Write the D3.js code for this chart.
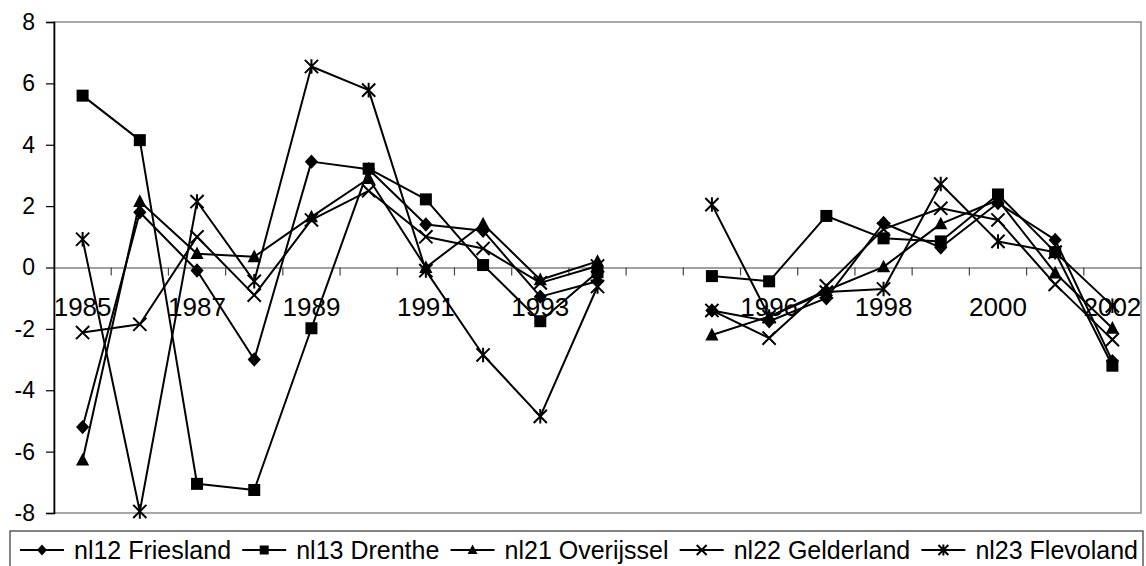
<!DOCTYPE html>
<html>
<head>
<meta charset="utf-8">
<script src="https://cdn.jsdelivr.net/npm/d3@7/dist/d3.min.js"></script>
<style>
  html, body { margin: 0; padding: 0; background: #fff; }
  svg { display: block; font-family: "Liberation Sans", Arial, sans-serif; }
</style>
</head>
<body>
<svg id="chart" width="1146" height="566"></svg>
<script>
// Categories: one empty slot separates the two periods
const categories = ["1985","1986","1987","1988","1989","1990","1991","1992","1993","1994","",
                    "1995","1996","1997","1998","1999","2000","2001","2002"];

const friesland  = [-5.2, 1.8, -0.1, -3.0, 3.45, 3.2, 1.4, 1.2, -0.95, -0.45, null,
                    -1.4, -1.75, -1.0, 1.45, 0.65, 2.1, 0.9, -3.05];
const drenthe    = [5.6, 4.15, -7.05, -7.25, -1.98, 3.22, 2.22, 0.08, -1.75, -0.15, null,
                    -0.28, -0.45, 1.68, 0.95, 0.85, 2.38, 0.5, -3.2];
const overijssel = [-6.28, 2.15, 0.45, 0.35, 1.65, 2.9, 0.0, 1.42, -0.4, 0.2, null,
                    -2.2, -1.6, -0.75, 0.02, 1.42, 2.2, -0.18, -1.98];
const gelderland = [-2.12, -1.85, 1.0, -0.9, 1.55, 2.5, 1.0, 0.62, -0.5, 0.05, null,
                    -1.4, -2.3, -0.6, 1.25, 1.93, 1.55, -0.55, -2.35];
const flevoland  = [0.92, -7.95, 2.15, -0.45, 6.55, 5.78, -0.1, -2.85, -4.85, -0.62, null,
                    2.05, -1.6, -0.8, -0.7, 2.72, 0.85, 0.5, -1.25];

const seriesNames = ["nl12 Friesland", "nl13 Drenthe", "nl21 Overijssel", "nl22 Gelderland", "nl23 Flevoland"];
const seriesValues = [friesland, drenthe, overijssel, gelderland, flevoland];
const seriesSymbols = ["diamond", "square", "triangle", "cross", "star"];

const yTicks = [-8, -6, -4, -2, 0, 2, 4, 6, 8];

const svg = d3.select("#chart");
const plot = { left: 54, right: 1141, top: 22, bottom: 513 };

const x = d3.scaleBand()
  .domain(d3.range(categories.length))
  .range([plot.left, plot.right])
  .padding(0);
const y = d3.scaleLinear().domain([-8, 8]).range([plot.bottom, plot.top]);

const cx = i => x(i) + x.bandwidth() / 2;

// plot area frame (light grey)
svg.append("rect")
  .attr("x", plot.left).attr("y", plot.top)
  .attr("width", plot.right - plot.left).attr("height", plot.bottom - plot.top)
  .attr("fill", "none").attr("stroke", "#8a8a8a").attr("stroke-width", 1.5);

// y axis (plain hyphen for negative numbers)
const yAxis = d3.axisLeft(y).tickValues(yTicks).tickSize(8).tickPadding(11)
  .tickFormat(d => String(d));
const gy = svg.append("g").attr("transform", `translate(${plot.left},0)`).call(yAxis);
gy.select(".domain").attr("stroke", "#000").attr("stroke-width", 1.6);
gy.selectAll(".tick line").attr("stroke", "#000").attr("stroke-width", 1.2);
gy.selectAll(".tick text")
  .attr("fill", "#000").style("font-size", "23px")
  .style("font-family", "'Liberation Sans', Arial, sans-serif");

// category axis drawn along the zero line
const xAxis = d3.axisBottom(x).tickSize(0).tickFormat((d, i) => i % 2 === 0 ? categories[i] : "");
const gx = svg.append("g").attr("transform", `translate(0,${y(0)})`).call(xAxis);
gx.select(".domain").attr("stroke", "#444").attr("stroke-width", 1.2);
gx.selectAll(".tick text")
  .attr("fill", "#000").attr("dy", 0).attr("y", 48)
  .style("font-size", "26px")
  .style("font-family", "'Liberation Sans', Arial, sans-serif");

// tick marks between categories
gx.selectAll(".sep")
  .data(d3.range(1, categories.length))
  .join("line")
  .attr("class", "sep")
  .attr("x1", i => x(i)).attr("x2", i => x(i))
  .attr("y1", 0).attr("y2", 8)
  .attr("stroke", "#444").attr("stroke-width", 1.2);

// symbols
function drawSymbol(g, type, s) {
  if (type === "diamond") {
    g.append("path").attr("d", `M0,${-s*0.6}L${s*0.55},0L0,${s*0.6}L${-s*0.55},0Z`).attr("fill", "#000");
  } else if (type === "square") {
    g.append("rect").attr("x", -s/2).attr("y", -s/2).attr("width", s).attr("height", s).attr("fill", "#000");
  } else if (type === "triangle") {
    g.append("path").attr("d", `M0,${-s*0.6}L${s*0.55},${s*0.45}L${-s*0.55},${s*0.45}Z`).attr("fill", "#000");
  } else if (type === "cross") {
    const h = s * 0.55;
    g.append("path").attr("d", `M${-h},${-h}L${h},${h}M${-h},${h}L${h},${-h}`)
      .attr("stroke", "#000").attr("stroke-width", 2).attr("fill", "none");
  } else if (type === "star") {
    const h = s * 0.55;
    g.append("path").attr("d", `M${-h},${-h}L${h},${h}M${-h},${h}L${h},${-h}M0,${-h*1.1}L0,${h*1.1}`)
      .attr("stroke", "#000").attr("stroke-width", 2).attr("fill", "none");
  }
}

const line = d3.line()
  .defined(d => d.v !== null)
  .x(d => cx(d.i))
  .y(d => y(d.v));

seriesValues.forEach((vals, k) => {
  const pts = vals.map((v, i) => ({ i, v }));
  svg.append("path")
    .datum(pts)
    .attr("d", line)
    .attr("fill", "none")
    .attr("stroke", "#000")
    .attr("stroke-width", 2)
    .attr("stroke-linejoin", "round");
  svg.append("g").selectAll("g")
    .data(pts.filter(p => p.v !== null))
    .join("g")
    .attr("transform", p => `translate(${cx(p.i)},${y(p.v)})`)
    .each(function () { drawSymbol(d3.select(this), seriesSymbols[k], 12); });
});

// legend
const legend = { left: 10, top: 531, right: 1143, bottom: 572 };
svg.append("rect")
  .attr("x", legend.left).attr("y", legend.top)
  .attr("width", legend.right - legend.left).attr("height", legend.bottom - legend.top)
  .attr("fill", "#fff").attr("stroke", "#333").attr("stroke-width", 1.2);

const lg = svg.append("g");
const sampleW = 44, textGap = 10;
const items = seriesNames.map((name, k) => {
  const g = lg.append("g");
  g.append("line").attr("x1", 0).attr("x2", sampleW).attr("y1", 0).attr("y2", 0)
    .attr("stroke", "#000").attr("stroke-width", 1.8);
  const m = g.append("g").attr("transform", `translate(${sampleW/2},0)`);
  drawSymbol(m, seriesSymbols[k], 9);
  const t = g.append("text").attr("x", sampleW + textGap).attr("y", 9)
    .attr("fill", "#000").style("font-size", "25px").text(name);
  return { g, w: sampleW + textGap + t.node().getComputedTextLength() };
});
const startX = 20, endX = 1138;
const totalW = d3.sum(items, d => d.w);
const gap = (endX - startX - totalW) / (items.length - 1);
let cur = startX;
items.forEach(it => {
  it.g.attr("transform", `translate(${cur},550)`);
  cur += it.w + gap;
});
</script>
</body>
</html>
